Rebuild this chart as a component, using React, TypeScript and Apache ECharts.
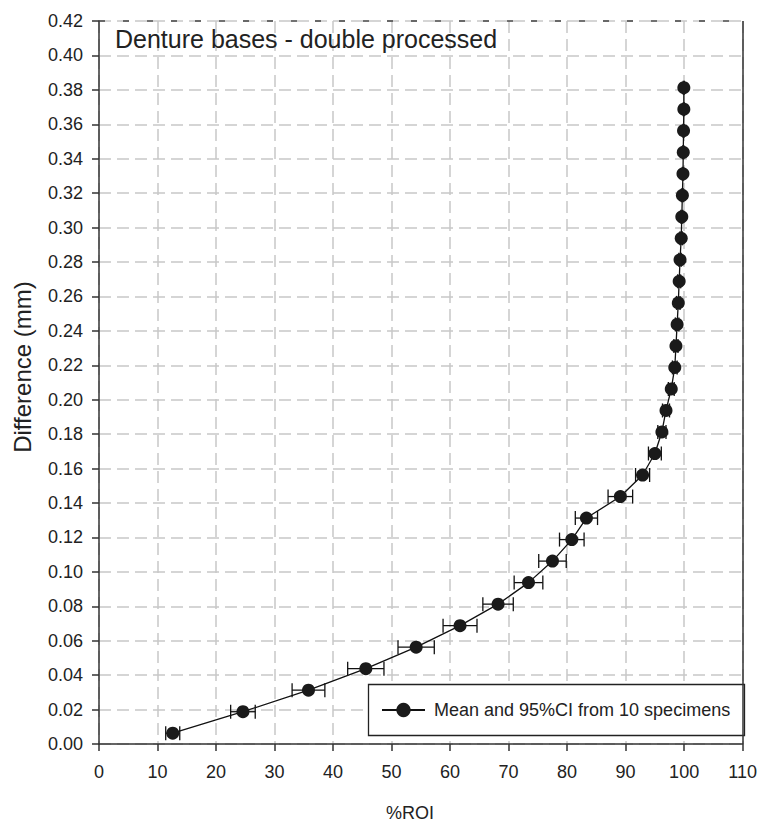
import React, { useEffect, useRef } from "react";
import * as echarts from "echarts";

const differenceMm = [
  0.00625, 0.01875, 0.03125, 0.04375, 0.05625, 0.06875, 0.08125, 0.09375, 0.10625, 0.11875,
  0.13125, 0.14375, 0.15625, 0.16875, 0.18125, 0.19375, 0.20625, 0.21875, 0.23125, 0.24375,
  0.25625, 0.26875, 0.28125, 0.29375, 0.30625, 0.31875, 0.33125, 0.34375, 0.35625, 0.36875,
  0.38125,
];
const meanRoi = [
  12.6, 24.6, 35.8, 45.6, 54.2, 61.7, 68.2, 73.4, 77.5, 80.8,
  83.3, 89.1, 92.9, 95.0, 96.2, 96.9, 97.8, 98.4, 98.6, 98.8,
  99.0, 99.15, 99.3, 99.5, 99.6, 99.7, 99.8, 99.85, 99.9, 99.95,
  99.95,
];
const ciHalf = [
  1.2, 2.1, 2.8, 3.1, 3.1, 2.9, 2.6, 2.45, 2.35, 2.1,
  1.9, 2.1, 1.2, 1.1, 0.7, 0.6, 0.5, 0.4, 0.35, 0.3,
  0.3, 0.25, 0.2, 0.2, 0.15, 0.15, 0.1, 0.1, 0.1, 0.1,
  0.1,
];
const titleText = "Denture bases - double processed";
const legendText = "Mean and 95%CI from 10 specimens";
const xTitle = "%ROI";
const yTitle = "Difference (mm)";

const FONT = "'Liberation Sans', Arial, sans-serif";

export default function App() {
  const ref = useRef<HTMLDivElement>(null);
  useEffect(() => {
    if (!ref.current) return;
    const chart = echarts.init(ref.current, undefined, { renderer: "svg" });
    const points = meanRoi.map((x, i) => [x, differenceMm[i]]);
    const bars = meanRoi.map((x, i) => [x - ciHalf[i], x + ciHalf[i], differenceMm[i]]);
    const option: any = {
      animation: false,
      backgroundColor: "#fff",
      grid: { left: 99, right: 17, top: 21, bottom: 81, containLabel: false },
      xAxis: {
        type: "value",
        min: 0,
        max: 110,
        interval: 10,
        axisLine: { show: true, onZero: false, lineStyle: { color: "#333", width: 1.5 } },
        axisTick: { show: true, length: 7, lineStyle: { color: "#333", width: 1.5 } },
        axisLabel: { margin: 19, fontSize: 18, color: "#222", fontFamily: FONT },
        splitLine: { show: true, lineStyle: { color: "#c8c8c8", width: 1.5, type: [12, 6] } },
      },
      yAxis: {
        type: "value",
        min: 0,
        max: 0.42,
        interval: 0.02,
        axisLine: { show: true, onZero: false, lineStyle: { color: "#333", width: 1.5 } },
        axisTick: { show: true, length: 7, lineStyle: { color: "#333", width: 1.5 } },
        axisLabel: {
          margin: 16,
          fontSize: 18,
          color: "#222",
          fontFamily: FONT,
          formatter: (v: number) => v.toFixed(2),
        },
        splitLine: { show: true, lineStyle: { color: "#c8c8c8", width: 1.5, type: [12, 6] } },
      },
      legend: {
        show: true,
        data: [legendText],
        left: 381,
        top: 701,
        padding: 0,
        itemWidth: 43,
        itemHeight: 18,
        z: 10,
        textStyle: { fontSize: 18, color: "#222", fontFamily: FONT, padding: [0, 0, 0, 4] },
      },
      graphic: [
        {
          type: "rect",
          z: 5,
          shape: { x: 368.5, y: 684.5, width: 376, height: 51 },
          style: { fill: "#fff", stroke: "#222", lineWidth: 1.3 },
        },
        {
          type: "line",
          z: 5,
          shape: { x1: 743, y1: 21, x2: 743, y2: 744 },
          style: { stroke: "#333", lineWidth: 1.5 },
        },
        {
          type: "line",
          z: 5,
          shape: { x1: 99, y1: 21, x2: 743, y2: 21 },
          style: { stroke: "#444", lineWidth: 1.3, lineDash: [6, 18] },
        },
        {
          type: "text",
          z: 5,
          x: 115,
          y: 26,
          style: { text: titleText, fontSize: 25, fill: "#222", fontFamily: FONT, textVerticalAlign: "top" },
        },
        {
          type: "text",
          z: 5,
          x: 410,
          y: 813,
          style: { text: xTitle, fontSize: 18, fill: "#222", fontFamily: FONT, textAlign: "center", textVerticalAlign: "middle" },
        },
        {
          type: "text",
          z: 5,
          x: 22,
          y: 367,
          rotation: Math.PI / 2,
          style: { text: yTitle, fontSize: 24, fill: "#222", fontFamily: FONT, textAlign: "center", textVerticalAlign: "middle" },
        },
      ],
      series: [
        {
          type: "custom",
          name: "ci",
          z: 1,
          data: bars,
          encode: { x: [0, 1], y: 2 },
          renderItem: (params: any, api: any) => {
            const lo = api.coord([api.value(0), api.value(2)]);
            const hi = api.coord([api.value(1), api.value(2)]);
            const h = 7;
            const style = { stroke: "#111", lineWidth: 1.3 };
            return {
              type: "group",
              children: [
                { type: "line", shape: { x1: lo[0], y1: lo[1], x2: hi[0], y2: hi[1] }, style },
                { type: "line", shape: { x1: lo[0], y1: lo[1] - h, x2: lo[0], y2: lo[1] + h }, style },
                { type: "line", shape: { x1: hi[0], y1: hi[1] - h, x2: hi[0], y2: hi[1] + h }, style },
              ],
            };
          },
        },
        {
          type: "line",
          name: legendText,
          z: 3,
          data: points,
          symbol: "circle",
          symbolSize: 13,
          showSymbol: true,
          lineStyle: { color: "#111", width: 1.3 },
          itemStyle: { color: "#1a1a1a" },
        },
      ],
    };
    chart.setOption(option);
    return () => chart.dispose();
  }, []);
  return (
    <div
      ref={ref}
      style={{ position: "absolute", left: 0, top: 0, width: 760, height: 825 }}
    />
  );
}
